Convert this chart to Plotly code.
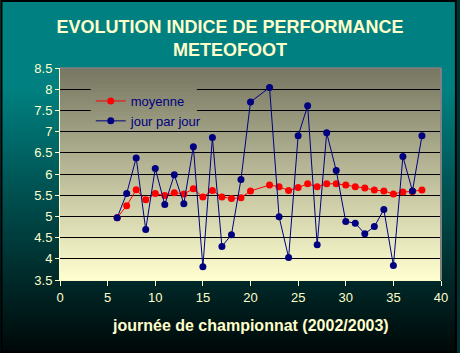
import plotly.graph_objects as go

# ---- data ----
journee = [6, 7, 8, 9, 10, 11, 12, 13, 14, 15, 16, 17, 18, 19, 20, 22, 23, 24,
           25, 26, 27, 28, 29, 30, 31, 32, 33, 34, 35, 36, 37, 38]
moyenne = [4.97, 5.25, 5.63, 5.39, 5.54, 5.49, 5.56, 5.53, 5.65, 5.46, 5.61, 5.46,
           5.42, 5.44, 5.60, 5.74, 5.70, 5.61, 5.68, 5.77, 5.70, 5.77, 5.77, 5.74,
           5.70, 5.67, 5.62, 5.60, 5.53, 5.575, 5.59, 5.62]
jour_par_jour = [4.97, 5.54, 6.38, 4.69, 6.13, 5.28, 5.98, 5.30, 6.64, 3.81, 6.86,
                 4.29, 4.57, 5.87, 7.70, 8.04, 4.99, 4.03, 6.90, 7.61, 4.33, 6.97,
                 6.08, 4.88, 4.84, 4.59, 4.76, 5.16, 3.84, 6.41, 5.60, 6.90]
x_ticks = [0, 5, 10, 15, 20, 25, 30, 35, 40]
y_ticks = [3.5, 4, 4.5, 5, 5.5, 6, 6.5, 7, 7.5, 8, 8.5]

TITLE = "EVOLUTION INDICE DE PERFORMANCE<br>METEOFOOT"
XTITLE = "journée de championnat (2002/2003)"

W, H = 460, 353
ML, MR, MT, MB = 60, 16, 68, 73
PW, PH = W - ML - MR, H - MT - MB
FONT = "Liberation Sans, Arial, sans-serif"
PALE = "#FFFFCC"


def lerp(c1, c2, t):
    return "rgb(%d,%d,%d)" % tuple(round(a + (b - a) * t) for a, b in zip(c1, c2))


shapes = []
# figure background gradient (teal -> black)
xp0, xp1 = -ML / PW, (W - ML) / PW
N = 90
for i in range(N):
    py0 = H * i / N
    py1 = H * (i + 1) / N + 1.0
    mid = (py0 + py1) / 2
    if mid < 90:
        col = "rgb(0,128,128)"
    else:
        col = lerp((0, 128, 128), (0, 8, 8), (mid - 90) / (H - 90))
    shapes.append(dict(type="rect", xref="paper", yref="paper", layer="below",
                       x0=xp0, x1=xp1,
                       y0=(H - MB - py1) / PH, y1=(H - MB - py0) / PH,
                       fillcolor=col, line=dict(width=0)))

# plot area gradient (olive grey -> cream)
TOP_C, BOT_C = (118, 118, 98), (255, 255, 208)
NB = 80
for i in range(NB):
    t0 = i / NB
    t1 = min(1.0, (i + 1) / NB + 0.004)
    col = lerp(TOP_C, BOT_C, (i + 0.5) / NB)
    shapes.append(dict(type="rect", xref="paper", yref="paper", layer="below",
                       x0=0, x1=1, y0=1 - t1, y1=1 - t0,
                       fillcolor=col, line=dict(width=0)))

# legend patch (hides gridlines behind the legend, keeps gradient)
lx0, lx1 = (91 - ML) / PW, (198 - ML) / PW
ly_top, ly_bot = 80, 128
NL = 12
for i in range(NL):
    p0 = ly_top + (ly_bot - ly_top) * i / NL
    p1 = ly_top + (ly_bot - ly_top) * (i + 1) / NL + 0.6
    col = lerp(TOP_C, BOT_C, ((p0 + p1) / 2 - MT) / PH)
    shapes.append(dict(type="rect", xref="paper", yref="paper", layer="above",
                       x0=lx0, x1=lx1, y0=(H - MB - p1) / PH, y1=(H - MB - p0) / PH,
                       fillcolor=col, line=dict(width=0)))

# grey frame top and right of plot area
shapes.append(dict(type="line", xref="paper", yref="paper", layer="above",
                   x0=0, x1=1, y0=1, y1=1, line=dict(color="#808080", width=1.5)))
shapes.append(dict(type="line", xref="paper", yref="paper", layer="above",
                   x0=1, x1=1, y0=0, y1=1, line=dict(color="#808080", width=2)))
# outer black frame
shapes.append(dict(type="rect", xref="paper", yref="paper", layer="above",
                   x0=(-ML + 1) / PW, x1=(W - ML - 1) / PW,
                   y0=(-MB + 1) / PH, y1=(H - MB - 1) / PH,
                   line=dict(color="black", width=2), fillcolor="rgba(0,0,0,0)"))

fig = go.Figure()
fig.add_trace(go.Scatter(x=journee, y=moyenne, name="moyenne", mode="lines+markers",
                         line=dict(color="#FF0000", width=1),
                         marker=dict(color="#FF0000", size=7, symbol="circle")))
fig.add_trace(go.Scatter(x=journee, y=jour_par_jour, name="jour par jour",
                         mode="lines+markers",
                         line=dict(color="#000080", width=1),
                         marker=dict(color="#000080", size=7, symbol="circle")))

fig.update_layout(
    width=W, height=H,
    margin=dict(l=ML, r=MR, t=MT, b=MB, pad=0),
    paper_bgcolor="#003030",
    plot_bgcolor="rgba(0,0,0,0)",
    font=dict(family=FONT, size=13, color=PALE),
    title=dict(text=TITLE, x=0.5, xref="container", xanchor="center",
               y=1 - 33 / H, yanchor="top",
               font=dict(family=FONT, size=18, color=PALE, weight="bold")),
    showlegend=True,
    legend=dict(x=(91 - ML) / PW, y=(H - MB - 86) / PH, xanchor="left", yanchor="top",
                bgcolor="rgba(0,0,0,0)", borderwidth=0,
                font=dict(family=FONT, size=13, color="#000080")),
    shapes=shapes,
    annotations=[dict(text=XTITLE, xref="paper", yref="paper", x=0.5,
                      y=(H - MB - 325) / PH, xanchor="center", yanchor="middle",
                      showarrow=False,
                      font=dict(family=FONT, size=16, color=PALE, weight="bold"))],
)
fig.update_xaxes(range=[0, 40], tickvals=x_ticks, showgrid=False, zeroline=False,
                 showline=True, linecolor=PALE, linewidth=1,
                 ticks="outside", ticklen=5, tickcolor=PALE, tickwidth=1,
                 tickfont=dict(family=FONT, size=13, color=PALE))
fig.update_yaxes(range=[3.5, 8.5], tickvals=y_ticks, showgrid=True, gridcolor="black",
                 gridwidth=1, zeroline=False,
                 showline=True, linecolor=PALE, linewidth=1,
                 ticks="outside", ticklen=4, tickcolor=PALE, tickwidth=1,
                 tickfont=dict(family=FONT, size=13, color=PALE))

fig.write_html("out.html")
